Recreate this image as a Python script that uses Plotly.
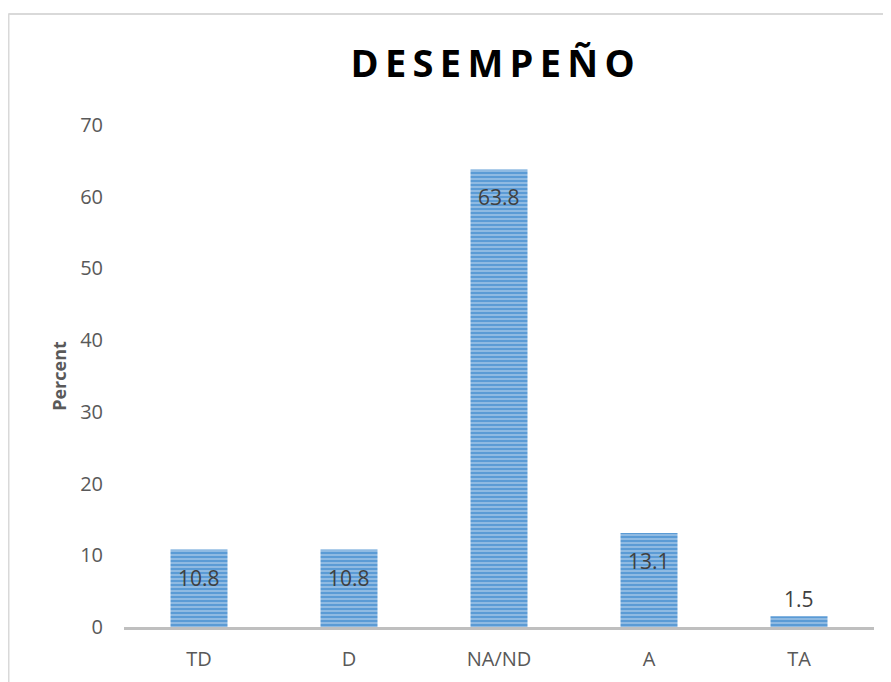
import plotly.graph_objects as go

categories = ["TD", "D", "NA/ND", "A", "TA"]
values = [10.8, 10.8, 63.8, 13.1, 1.5]
y_ticks = [0, 10, 20, 30, 40, 50, 60, 70]
title_text = "DESEMPEÑO"

FONT = "Open Sans"

fig = go.Figure()
fig.add_trace(go.Bar(
    x=categories, y=values,
    width=0.38,
    marker=dict(
        color="#5B9BD5",
        line=dict(width=0),
        pattern=dict(shape="-", fgcolor="#DCE9F6", bgcolor="#5B9BD5", size=4, solidity=0.4),
    ),
    hoverinfo="x+y",
))

annotations = []
for c, v in zip(categories, values):
    inside = v >= 5
    annotations.append(dict(
        x=c, y=v, xref="x", yref="y", text=f"{v:.1f}", showarrow=False,
        yanchor="middle", yshift=-28 if inside else 17,
        font=dict(family=FONT, size=21, color="#404040"),
    ))

fig.update_layout(
    width=891, height=682,
    paper_bgcolor="white", plot_bgcolor="white",
    margin=dict(l=116, r=25, t=117, b=63),
    showlegend=False,
    title=dict(text="<b>" + "\u2009".join(title_text) + "</b>", x=0.544, xref="container", xanchor="center",
               y=0.918, yref="container", yanchor="middle",
               font=dict(family=FONT, size=38, color="#000000")),
    font=dict(family=FONT),
    xaxis=dict(showgrid=False, showline=True, linecolor="#BFBFBF", linewidth=2.5, ticks="",
               tickfont=dict(family=FONT, size=20, color="#595959"), ticklabelstandoff=12),
    yaxis=dict(range=[0, 70], tickvals=y_ticks, showgrid=False, zeroline=False, showline=False,
               tickfont=dict(family=FONT, size=20, color="#595959"), ticklabelstandoff=20,
               title=dict(text="<b>Percent</b>", font=dict(family=FONT, size=18, color="#595959"), standoff=8)),
    annotations=annotations,
    shapes=[
        dict(type="line", xref="paper", yref="paper", x0=-0.154, x1=1.1, y0=1.221, y1=1.221,
             line=dict(color="#D9D9D9", width=2)),
        dict(type="line", xref="paper", yref="paper", x0=-0.154, x1=-0.154, y0=-0.2, y1=1.222,
             line=dict(color="#D9D9D9", width=2)),
    ],
)

fig.write_html("out.html")
